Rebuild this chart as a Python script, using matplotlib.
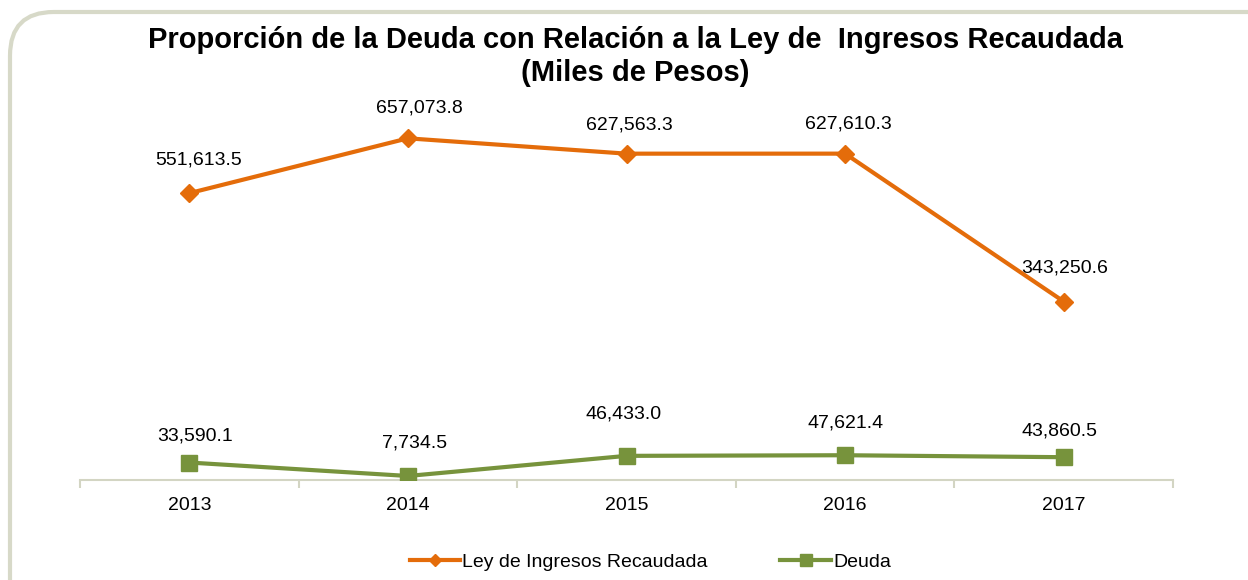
import numpy as np
import matplotlib.pyplot as plt
from matplotlib.patches import FancyBboxPatch
from matplotlib.lines import Line2D

plt.rcParams['font.family'] = ['Liberation Sans', 'DejaVu Sans']

years = ['2013', '2014', '2015', '2016', '2017']
ley_ingresos = [551613.5, 657073.8, 627563.3, 627610.3, 343250.6]
deuda = [33590.1, 7734.5, 46433.0, 47621.4, 43860.5]

# label offsets (dx, dy) in points, hand placed in the original
ley_offsets = [(7, 24), (8, 22), (2, 21), (2, 21), (1, 24)]
deuda_offsets = [(4, 19), (5, 24), (-2, 30), (0, 23), (-3, 19)]

orange = '#E46C0A'
green = '#77933C'
axis_color = '#D3D5C3'

W, H = 1248, 580
fig = plt.figure(figsize=(W / 100, H / 100), dpi=100)

# rounded frame, runs off the right and bottom edges
frame = FancyBboxPatch((10 / W, -0.1), 1.2, 1.1 - 12 / H, boxstyle='round,pad=0,rounding_size=0.035',
                       transform=fig.transFigure, facecolor='white', edgecolor='#D7D9C8',
                       linewidth=3, mutation_aspect=W / H, zorder=-1)
fig.patches.append(frame)

ax = fig.add_axes([80 / W, 100 / H, 1093 / W, 416 / H])
ax.patch.set_visible(False)
x = np.arange(len(years))

ax.plot(x, ley_ingresos, color=orange, lw=3, marker='D', ms=9.5, mfc=orange, mec=orange, zorder=3)
ax.plot(x, deuda, color=green, lw=3, marker='s', ms=11.5, mfc=green, mec=green, zorder=3)

for i in range(len(years)):
    ax.annotate(f'{ley_ingresos[i]:,.1f}', (x[i], ley_ingresos[i]), xytext=ley_offsets[i],
                textcoords='offset points', ha='center', va='center', fontsize=14)
    ax.annotate(f'{deuda[i]:,.1f}', (x[i], deuda[i]), xytext=deuda_offsets[i],
                textcoords='offset points', ha='center', va='center', fontsize=14)

ax.set_xlim(-0.5, len(years) - 0.5)
ax.set_ylim(0, 800000)
ax.set_yticks([])
for s in ['left', 'right', 'top']:
    ax.spines[s].set_visible(False)
ax.spines['bottom'].set_color(axis_color)
ax.spines['bottom'].set_linewidth(1.5)
ax.set_xticks(x)
ax.set_xticklabels(years, fontsize=14)
ax.tick_params(axis='x', which='major', length=0, pad=12)
ax.set_xticks(np.arange(-0.5, len(years)), minor=True)
ax.tick_params(axis='x', which='minor', length=6, width=1.5, color=axis_color)

fig.text(0.509, 1 - 40 / H, 'Proporción de la Deuda con Relación a la Ley de  Ingresos Recaudada',
         ha='center', va='center', fontsize=21, fontweight='bold')
fig.text(0.509, 1 - 73 / H, '(Miles de Pesos)', ha='center', va='center', fontsize=21, fontweight='bold')

handles = [Line2D([], [], color=orange, lw=3, marker='D', ms=6),
           Line2D([], [], color=green, lw=3, marker='s', ms=9)]
fig.legend(handles, ['Ley de Ingresos Recaudada', 'Deuda'], loc='center', bbox_to_anchor=(0.521, 1 - 562 / H),
           ncol=2, frameon=False, fontsize=14, handlelength=2.6, handletextpad=0.1, columnspacing=3.75)

fig.savefig('out.png', dpi=100)
